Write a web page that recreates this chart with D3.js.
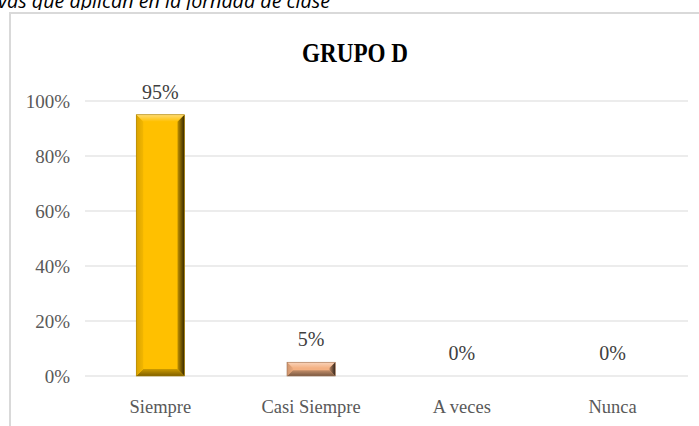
<!DOCTYPE html>
<html>
<head>
<meta charset="utf-8">
<script src="https://cdn.jsdelivr.net/npm/d3@7/dist/d3.min.js"></script>
<style>
  html, body { margin: 0; padding: 0; background: #fff; }
  svg { display: block; }
  .serif { font-family: "Liberation Serif", "DejaVu Serif", serif; }
</style>
</head>
<body>
<svg id="chart" width="699" height="426"></svg>
<script>
const categories = ["Siempre", "Casi Siempre", "A veces", "Nunca"];
const values = [0.95, 0.05, 0, 0];
const barColors = ["#FFC000", "#F4B183", "#A5A5A5", "#5B9BD5"];
const yTicks = [0, 0.2, 0.4, 0.6, 0.8, 1.0];
const title = "GRUPO D";
const captionText = "vas que aplican en la jornada de clase";

const svg = d3.select("#chart");
const W = 699, H = 426;
const plot = { left: 85, right: 688, top: 101, bottom: 376 };

const defs = svg.append("defs");
defs.append("clipPath").attr("id", "capclip")
  .append("rect").attr("x", 0).attr("y", 0).attr("width", W).attr("height", 10);
svg.append("text")
  .attr("clip-path", "url(#capclip)")
  .attr("x", -2).attr("y", 7.5)
  .style("font-family", "'Open Sans', 'Liberation Sans', sans-serif")
  .attr("font-style", "italic")
  .attr("font-size", 20)
  .attr("textLength", 332)
  .attr("lengthAdjust", "spacingAndGlyphs")
  .attr("fill", "#000")
  .text(captionText);

svg.append("rect")
  .attr("x", 10).attr("y", 13)
  .attr("width", W + 20).attr("height", H + 20)
  .attr("fill", "#fff")
  .attr("stroke", "#d9d9d9").attr("stroke-width", 2);

const x = d3.scaleBand().domain(categories)
  .range([plot.left, plot.right])
  .paddingInner(0.68).paddingOuter(0.34);
const y = d3.scaleLinear().domain([0, 1]).range([plot.bottom, plot.top]);

svg.append("g").selectAll("line").data(yTicks).join("line")
  .attr("x1", plot.left).attr("x2", plot.right)
  .attr("y1", d => y(d)).attr("y2", d => y(d))
  .attr("stroke", "#d9d9d9").attr("stroke-width", 1.2);

svg.append("g").selectAll("text").data(yTicks).join("text")
  .attr("class", "serif")
  .attr("x", 70).attr("y", d => y(d) + 6.5)
  .attr("text-anchor", "end")
  .attr("font-size", 19)
  .attr("fill", "#595959")
  .text(d => d3.format(".0%")(d));

function mix(c, t, k) { return d3.interpolateRgb(c, t)(k); }
function grad(id, x1, y1, x2, y2, stops) {
  const g = defs.append("linearGradient").attr("id", id)
    .attr("x1", x1).attr("y1", y1).attr("x2", x2).attr("y2", y2);
  stops.forEach(s => g.append("stop").attr("offset", s[0]).attr("stop-color", s[1]));
}
barColors.forEach((c, i) => {
  grad("top" + i, 0, 0, 0, 1, [[0, mix(c, "#fff", 0.45)], [1, c]]);
  grad("bot" + i, 0, 0, 0, 1, [[0, mix(c, "#000", 0.2)], [1, mix(c, "#000", 0.5)]]);
  grad("lft" + i, 0, 0, 1, 0, [[0, mix(c, "#000", 0.15)], [1, mix(c, "#000", 0.05)]]);
  grad("rgt" + i, 0, 0, 1, 0, [[0, mix(c, "#000", 0.25)], [1, mix(c, "#000", 0.8)]]);
});

const bars = svg.append("g");
categories.forEach((cat, i) => {
  const v = values[i];
  if (v <= 0) return;
  const x0 = x(cat), x1 = x0 + x.bandwidth();
  const y0 = y(v), y1 = y(0);
  const b = Math.min(7, (y1 - y0) * 0.42);
  const g = bars.append("g");
  g.append("rect").attr("x", x0).attr("y", y0)
    .attr("width", x1 - x0).attr("height", y1 - y0).attr("fill", barColors[i]);
  const poly = (pts, fill) => g.append("polygon")
    .attr("points", pts.map(p => p.join(",")).join(" ")).attr("fill", fill);
  poly([[x0, y0], [x1, y0], [x1 - b, y0 + b], [x0 + b, y0 + b]], `url(#top${i})`);
  poly([[x0, y1], [x1, y1], [x1 - b, y1 - b], [x0 + b, y1 - b]], `url(#bot${i})`);
  poly([[x0, y0], [x0 + b, y0 + b], [x0 + b, y1 - b], [x0, y1]], `url(#lft${i})`);
  poly([[x1, y0], [x1 - b, y0 + b], [x1 - b, y1 - b], [x1, y1]], `url(#rgt${i})`);
  g.append("rect").attr("x", x0).attr("y", y0)
    .attr("width", x1 - x0).attr("height", y1 - y0)
    .attr("fill", "none").attr("stroke", mix(barColors[i], "#000", 0.35)).attr("stroke-width", 0.6);
});

svg.append("g").selectAll("text").data(categories).join("text")
  .attr("class", "serif")
  .attr("x", d => x(d) + x.bandwidth() / 2)
  .attr("y", (d, i) => y(values[i]) - 16)
  .attr("text-anchor", "middle")
  .attr("font-size", 20)
  .attr("fill", "#404040")
  .text((d, i) => d3.format(".0%")(values[i]));

svg.append("g").selectAll("text").data(categories).join("text")
  .attr("class", "serif")
  .attr("x", d => x(d) + x.bandwidth() / 2)
  .attr("y", 413)
  .attr("text-anchor", "middle")
  .attr("font-size", 18.5)
  .attr("fill", "#595959")
  .text(d => d);

svg.append("text")
  .attr("class", "serif")
  .attr("x", 355).attr("y", 62)
  .attr("text-anchor", "middle")
  .attr("font-weight", "bold")
  .attr("font-size", 27)
  .attr("textLength", 106)
  .attr("lengthAdjust", "spacingAndGlyphs")
  .attr("fill", "#000")
  .text(title);
</script>
</body>
</html>
